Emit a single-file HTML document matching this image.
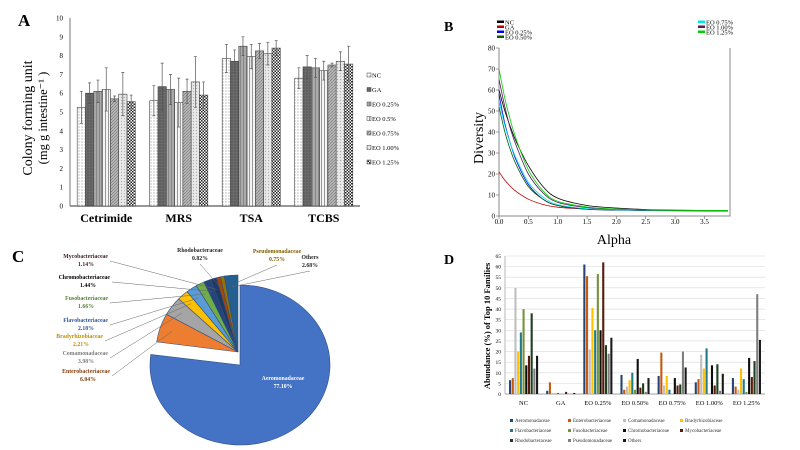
<!DOCTYPE html>
<html><head><meta charset="utf-8"><style>
html,body{margin:0;padding:0;background:#fff;}
svg{display:block;font-family:"Liberation Serif",serif;}
</style></head><body>
<svg id="fig" width="800" height="450" viewBox="0 0 800 450">
<defs>
<pattern id="pNC" width="3" height="3" patternUnits="userSpaceOnUse"><rect width="3" height="3" fill="#fff"/><circle cx="1" cy="1" r="0.6" fill="#999"/></pattern>
<pattern id="pGA" width="3" height="3" patternUnits="userSpaceOnUse"><rect width="3" height="3" fill="#6a6a6a"/><circle cx="1" cy="1" r="0.6" fill="#444"/></pattern>
<pattern id="p25" width="3" height="3" patternUnits="userSpaceOnUse"><rect width="3" height="3" fill="#aaa"/><rect width="1" height="3" fill="#888"/></pattern>
<pattern id="p50" width="3" height="3" patternUnits="userSpaceOnUse"><rect width="3" height="3" fill="#f4f4f4"/><rect width="1" height="3" fill="#999"/></pattern>
<pattern id="p75" width="3" height="3" patternUnits="userSpaceOnUse"><rect width="3" height="3" fill="#bbb"/><path d="M0 3L3 0" stroke="#777" stroke-width="0.7"/></pattern>
<pattern id="p100" width="3" height="3" patternUnits="userSpaceOnUse"><rect width="3" height="3" fill="#e8e8e8"/><circle cx="1.5" cy="1.5" r="0.6" fill="#aaa"/></pattern>
<pattern id="p125" width="3" height="3" patternUnits="userSpaceOnUse"><rect width="3" height="3" fill="#fff"/><rect width="1.5" height="1.5" fill="#222"/><rect x="1.5" y="1.5" width="1.5" height="1.5" fill="#222"/></pattern>
</defs>
<g id="panelA"></g>
<g id="panelB"></g>
<g id="panelC"></g>
<g id="panelD"></g>
</svg>
<script>
// ---------- Panel A data ----------
const aCategories = ["Cetrimide","MRS","TSA","TCBS"];
const aSeries = ["NC","GA","EO 0.25%","EO 0.5%","EO 0.75%","EO 1.00%","EO 1.25%"];
const aValues = [
  [5.25,5.6,7.85,6.8],
  [6.0,6.35,7.7,7.4],
  [6.1,6.2,8.5,7.35],
  [6.2,5.5,7.95,7.2],
  [5.7,6.1,8.25,7.5],
  [5.95,6.6,8.1,7.7],
  [5.55,5.9,8.4,7.55]
];
const aErrors = [
  [0.85,0.8,0.75,0.55],
  [0.55,1.25,0.6,0.6],
  [0.6,0.8,0.5,0.5],
  [1.15,1.3,0.65,0.5],
  [0.15,0.65,0.4,0.1],
  [1.15,1.35,0.6,0.5],
  [0.35,0.7,0.4,0.95]
];
const aTicks = [0,1,2,3,4,5,6,7,8,9,10];

// ---------- Panel B data ----------
const bAlpha = [0,0.1,0.2,0.3,0.5,0.75,1,1.5,2,2.5,3,3.9];
const bNames = ["NC","GA","EO 0.25%","EO 0.50%","EO 0.75%","EO 1.00%","EO 1.25%"];
const bNC   = [60,50,42,35,24,14,8.5,5,3.8,3.1,2.8,2.6];
const bGA   = [21,17,14,11.5,8,5.5,4.2,3.3,2.9,2.7,2.6,2.5];
const bE025 = [58,44,34,26,15,8,5,3.2,2.8,2.6,2.5,2.4];
const bE050 = [52,40,31,24,14,8,5,3.3,2.9,2.7,2.5,2.4];
const bE075 = [55,43,34,27,16,9,5.5,3.5,3,2.7,2.6,2.5];
const bE100 = [65,52,41,33,20,11,6.5,4,3.2,2.8,2.6,2.5];
const bE125 = [70,56,45,36,22,12,7,4.3,3.3,2.9,2.7,2.6];
const bYTicks = [0,10,20,30,40,50,60,70,80];
const bXTicks = ["0.0","0.5","1.0","1.5","2.0","2.5","3.0","3.5"];

// ---------- Panel C data ----------
const cLabels = ["Aeromonadaceae","Enterobacteriaceae","Comamonadaceae","Bradyrhizobiaceae","Flavobacteriaceae","Fusobacteriaceae","Chromobacteriaceae","Mycobacteriaceae","Rhodobacteraceae","Pseudomonadaceae","Others"];
const cValues = [77.10,6.04,3.98,2.21,2.18,1.66,1.44,1.14,0.82,0.75,2.68];

// ---------- Panel D data ----------
const dGroups = ["NC","GA","EO 0.25%","EO 0.50%","EO 0.75%","EO 1.00%","EO 1.25%"];
const dFamilies = ["Aeromonadaceae","Enterobacteriaceae","Comamonadaceae","Bradyrhizobiaceae","Flavobacteriaceae","Fusobacteriaceae","Chromobacteriaceae","Mycobacteriaceae","Rhodobacteraceae","Pseudomonadaceae","Others"];
const dNC   = [6.5,7.5,50,20,29,40,13.5,18,38,12,18];
const dGA   = [1.5,5.5,0.5,0.5,0.5,0,0,1,0,0,0.5];
const dE025 = [61,55.5,21,40.5,30,56.5,30,62,23,19,26.5];
const dE050 = [9,2,3.5,6.5,10,2,16.5,3,5,1,7.5];
const dE075 = [8.5,19.5,4,8.5,2,0,7.5,4,4.5,20,12.5];
const dE100 = [5.5,7,18.5,12,21.5,0,13.5,4,14,1.5,9.5];
const dE125 = [7.5,3.5,2,12,7,1,17,8,15.5,47,25.5];
const dYTicks = [0,5,10,15,20,25,30,35,40,45,50,55,60,65];

const NS="http://www.w3.org/2000/svg";
function mk(parent,tag,attrs,text){const e=document.createElementNS(NS,tag);for(const k in attrs)e.setAttribute(k,attrs[k]);if(text!==undefined)e.textContent=text;parent.appendChild(e);return e;}

// ================= Panel A =================
(function(){
  const g=document.getElementById('panelA');
  const x0=70,x1=360,yB=206,yT=18;
  const y=v=>yB-(v/10)*(yB-yT);
  const band=(x1-x0)/aCategories.length, bw=8.3;
  const fills=["url(#pNC)","url(#pGA)","url(#p25)","url(#p50)","url(#p75)","url(#p100)","url(#p125)"];
  let t=mk(g,'text',{x:18,y:26,'font-size':17,'font-weight':'bold'},'A');
  
  mk(g,'line',{x1:x0,y1:yT,x2:x0,y2:yB,stroke:'#777','stroke-width':1});
  mk(g,'line',{x1:x0,y1:yB,x2:x1,y2:yB,stroke:'#777','stroke-width':1.5});
  aTicks.forEach(v=>{
    const tk=mk(g,'text',{x:63,y:y(v)+2.5,'font-size':7,'text-anchor':'end'},v);
    
  });
  aCategories.forEach((c,ci)=>{
    const cx=x0+band*(ci+0.5);
    const lab=mk(g,'text',{x:cx,y:222,'font-size':12,'font-weight':'bold','text-anchor':'middle'},c);
    
    aSeries.forEach((s,si)=>{
      const v=aValues[si][ci],e=aErrors[si][ci];
      const bx=cx-bw*aSeries.length/2+si*bw;
      const r=mk(g,'rect',{x:bx,y:y(v),width:bw,height:yB-y(v),fill:fills[si],stroke:'#444','stroke-width':0.6});
      
      const mx=bx+bw/2;
      const el=mk(g,'path',{d:`M${mx} ${y(v-e)}V${y(v+e)}M${mx-1.5} ${y(v+e)}H${mx+1.5}M${mx-1.5} ${y(v-e)}H${mx+1.5}`,stroke:'#555','stroke-width':0.7,fill:'none'});
      
    });
  });
  const yl=mk(g,'text',{transform:'translate(32,118) rotate(-90)','font-size':14,'text-anchor':'middle'},'Colony forming unit');
  
  const yl2=mk(g,'text',{transform:'translate(47,118) rotate(-90)','font-size':12.5,'text-anchor':'middle'},'(mg g intestine\u207B\u00B9 )');
  
  aSeries.forEach((s,si)=>{
    const ly=76+si*14.5;
    const sw=mk(g,'rect',{x:367,y:ly-3,width:4,height:4,fill:fills[si],stroke:'#444','stroke-width':0.5});
    
    const lt=mk(g,'text',{x:372,y:ly+1.5,'font-size':6.5},s);
    
  });
})();

// ================= Panel B =================
(function(){
  const g=document.getElementById('panelB');
  const x0=499,x1=730,yB=216,yT=48;
  const xs=a=>x0+a*58.7;
  const ys=v=>yB-(v/80)*(yB-yT);
  const colors=["#000","#c00000","#0000ee","#0a5a0a","#00e5ee","#5a1a5a","#00d000"];
  const series=[bNC,bGA,bE025,bE050,bE075,bE100,bE125];
  let t=mk(g,'text',{x:444,y:31,'font-size':14,'font-weight':'bold'},'B');
  
  mk(g,'path',{d:`M${x0} ${yT}V${yB}H${x1}V${yT}`,stroke:'#888','stroke-width':1,fill:'none'});
  bYTicks.forEach(v=>{
    mk(g,'line',{x1:x0-3,y1:ys(v),x2:x0,y2:ys(v),stroke:'#666','stroke-width':0.6});
    const tk=mk(g,'text',{x:x0-4,y:ys(v)+2.5,'font-size':7,'text-anchor':'end'},v);
    
  });
  bXTicks.forEach(v=>{
    mk(g,'line',{x1:xs(+v),y1:yB,x2:xs(+v),y2:yB+3,stroke:'#666','stroke-width':0.6});
    const tk=mk(g,'text',{x:xs(+v),y:yB+8,'font-size':7,'text-anchor':'middle'},v);
    
  });
  const xl=mk(g,'text',{x:614,y:244,'font-size':14,'text-anchor':'middle'},'Alpha');
  
  const yl=mk(g,'text',{transform:'translate(483,138) rotate(-90)','font-size':14,'text-anchor':'middle'},'Diversity');
  
  series.forEach((arr,si)=>{
    const P=bAlpha.map((a,i)=>[xs(a),ys(arr[i])]);
    let d=`M${P[0][0]} ${P[0][1]}`;
    for(let i=0;i<P.length-1;i++){
      const p0=P[Math.max(0,i-1)],p1=P[i],p2=P[i+1],p3=P[Math.min(P.length-1,i+2)];
      const c1=[p1[0]+(p2[0]-p0[0])/6,p1[1]+(p2[1]-p0[1])/6];
      const c2=[p2[0]-(p3[0]-p1[0])/6,p2[1]-(p3[1]-p1[1])/6];
      d+=`C${c1[0]} ${c1[1]} ${c2[0]} ${c2[1]} ${p2[0]} ${p2[1]}`;
    }
    const ln=mk(g,'path',{d:d,stroke:colors[si],'stroke-width':0.8,fill:'none'});
    
    const lx=si<4?497:698, ly=si<4?22+si*5:22+(si-4)*5;
    mk(g,'rect',{x:lx,y:ly-1.5,width:7,height:2.5,fill:colors[si]});
    const lt=mk(g,'text',{x:lx+8,y:ly+2.5,'font-size':6.5},bNames[si]);
    
  });
})();

// ================= Panel C =================
(function(){
  const g=document.getElementById('panelC');
  const colors=["#4472c4","#ed7d31","#a5a5a5","#ffc000","#5b9bd5","#70ad47","#264478","#1f3864","#9e480e","#997300","#255e91"];
  const labelColors=["#fff","#843c0c","#7f7f7f","#bf9000","#2f5597","#548235","#000","#3a1f1f","#262626","#7f6000","#262626"];
  let t=mk(g,'text',{x:12,y:262,'font-size':17,'font-weight':'bold'},'C');
  
  const rx=82,ry=77;
  const total=cValues.reduce((a,b)=>a+b,0);
  let start=0;
  const labelPos=[[283,380],[110,373],[108,355],[103,338],[108,322],[108,300],[110,279],[108,258],[200,252],[277,253],[310,259]];
  cValues.forEach((v,i)=>{
    const ang=v/total*2*Math.PI, end=start+ang, mid=start+ang/2;
    let cx=238,cy=352, R1=rx, R2=ry;
    if(i===0){cx=240;cy=365;R1=90;R2=80;}
    const p=(a)=>[cx+R1*Math.sin(a),cy-R2*Math.cos(a)];
    const a1=p(start),a2=p(end);
    const large=ang>Math.PI?1:0;
    const s=mk(g,'path',{d:`M${cx} ${cy}L${a1[0]} ${a1[1]}A${R1} ${R2} 0 ${large} 1 ${a2[0]} ${a2[1]}Z`,fill:colors[i],stroke:'#2f4f7f','stroke-width':0.6});
    
    const lp=labelPos[i];
    const anchor=(i>=1&&i<=7)?'end':'middle';
    if(i>0){
      const edge=[238+rx*0.85*Math.sin(mid),352-ry*0.85*Math.cos(mid)];
      const lx= anchor==='end'? lp[0]+2 : lp[0];
      const lyy= anchor==='end'? lp[1]+3 : lp[1]+12;
      mk(g,'path',{d:`M${lx} ${lyy}L${edge[0]} ${edge[1]}`,stroke:'#666','stroke-width':0.5,fill:'none'});
    }
    const tx=mk(g,'text',{x:lp[0],y:lp[1],'font-size':5.8,'font-weight':'bold','text-anchor':anchor,fill:labelColors[i]},cLabels[i]);
    
    const pv=mk(g,'text',{x:anchor==='end'?lp[0]-22:lp[0],y:lp[1]+8,'font-size':5.8,'font-weight':'bold','text-anchor':'middle',fill:labelColors[i]},v.toFixed(2)+'%');
    
    start=end;
  });
})();

// ================= Panel D =================
(function(){
  const g=document.getElementById('panelD');
  const x0=505,x1=765,yB=394,yT=256;
  const ys=v=>yB-(v/65)*(yB-yT);
  const colors=["#264478","#c55a11","#bfbfbf","#ffc000","#1f7a8c","#76923c","#0d0d0d","#5a1a0a","#1e3f1e","#7f7f7f","#1a1a1a"];
  const data=[dNC,dGA,dE025,dE050,dE075,dE100,dE125];
  let t=mk(g,'text',{x:444,y:264,'font-size':14,'font-weight':'bold'},'D');
  
  dYTicks.forEach(v=>{
    mk(g,'line',{x1:x0,y1:ys(v),x2:x1,y2:ys(v),stroke:'#d9d9d9','stroke-width':0.6});
    const tk=mk(g,'text',{x:x0-4,y:ys(v)+2,'font-size':5.5,'text-anchor':'end'},v);
    
  });
  mk(g,'line',{x1:x0,y1:yT,x2:x0,y2:yB,stroke:'#888','stroke-width':0.6});
  mk(g,'line',{x1:x0,y1:yB,x2:x1,y2:yB,stroke:'#888','stroke-width':0.8});
  const band=(x1-x0)/dGroups.length, bw=2.7;
  dGroups.forEach((gr,gi)=>{
    const cx=x0+band*(gi+0.5);
    const lab=mk(g,'text',{x:cx,y:405,'font-size':6.5,'text-anchor':'middle'},gr);
    
    data[gi].forEach((v,fi)=>{
      const bx=cx-bw*11/2+fi*bw;
      const r=mk(g,'rect',{x:bx+0.3,y:ys(v),width:bw-0.6,height:yB-ys(v),fill:colors[fi]});
      
    });
  });
  const yl=mk(g,'text',{transform:'translate(490,326) rotate(-90)','font-size':8.5,'font-weight':'bold','text-anchor':'middle'},'Abundance (%) of Top 10 Families');
  
  const colX=[510,568,623,680];
  dFamilies.forEach((f,fi)=>{
    const lx=colX[fi%4], ly=422+Math.floor(fi/4)*10;
    mk(g,'rect',{x:lx,y:ly-3,width:3,height:3,fill:colors[fi]});
    const lt=mk(g,'text',{x:lx+5,y:ly,'font-size':5,fill:'#333'},f);
    
  });
})();
</script>
</body></html>
